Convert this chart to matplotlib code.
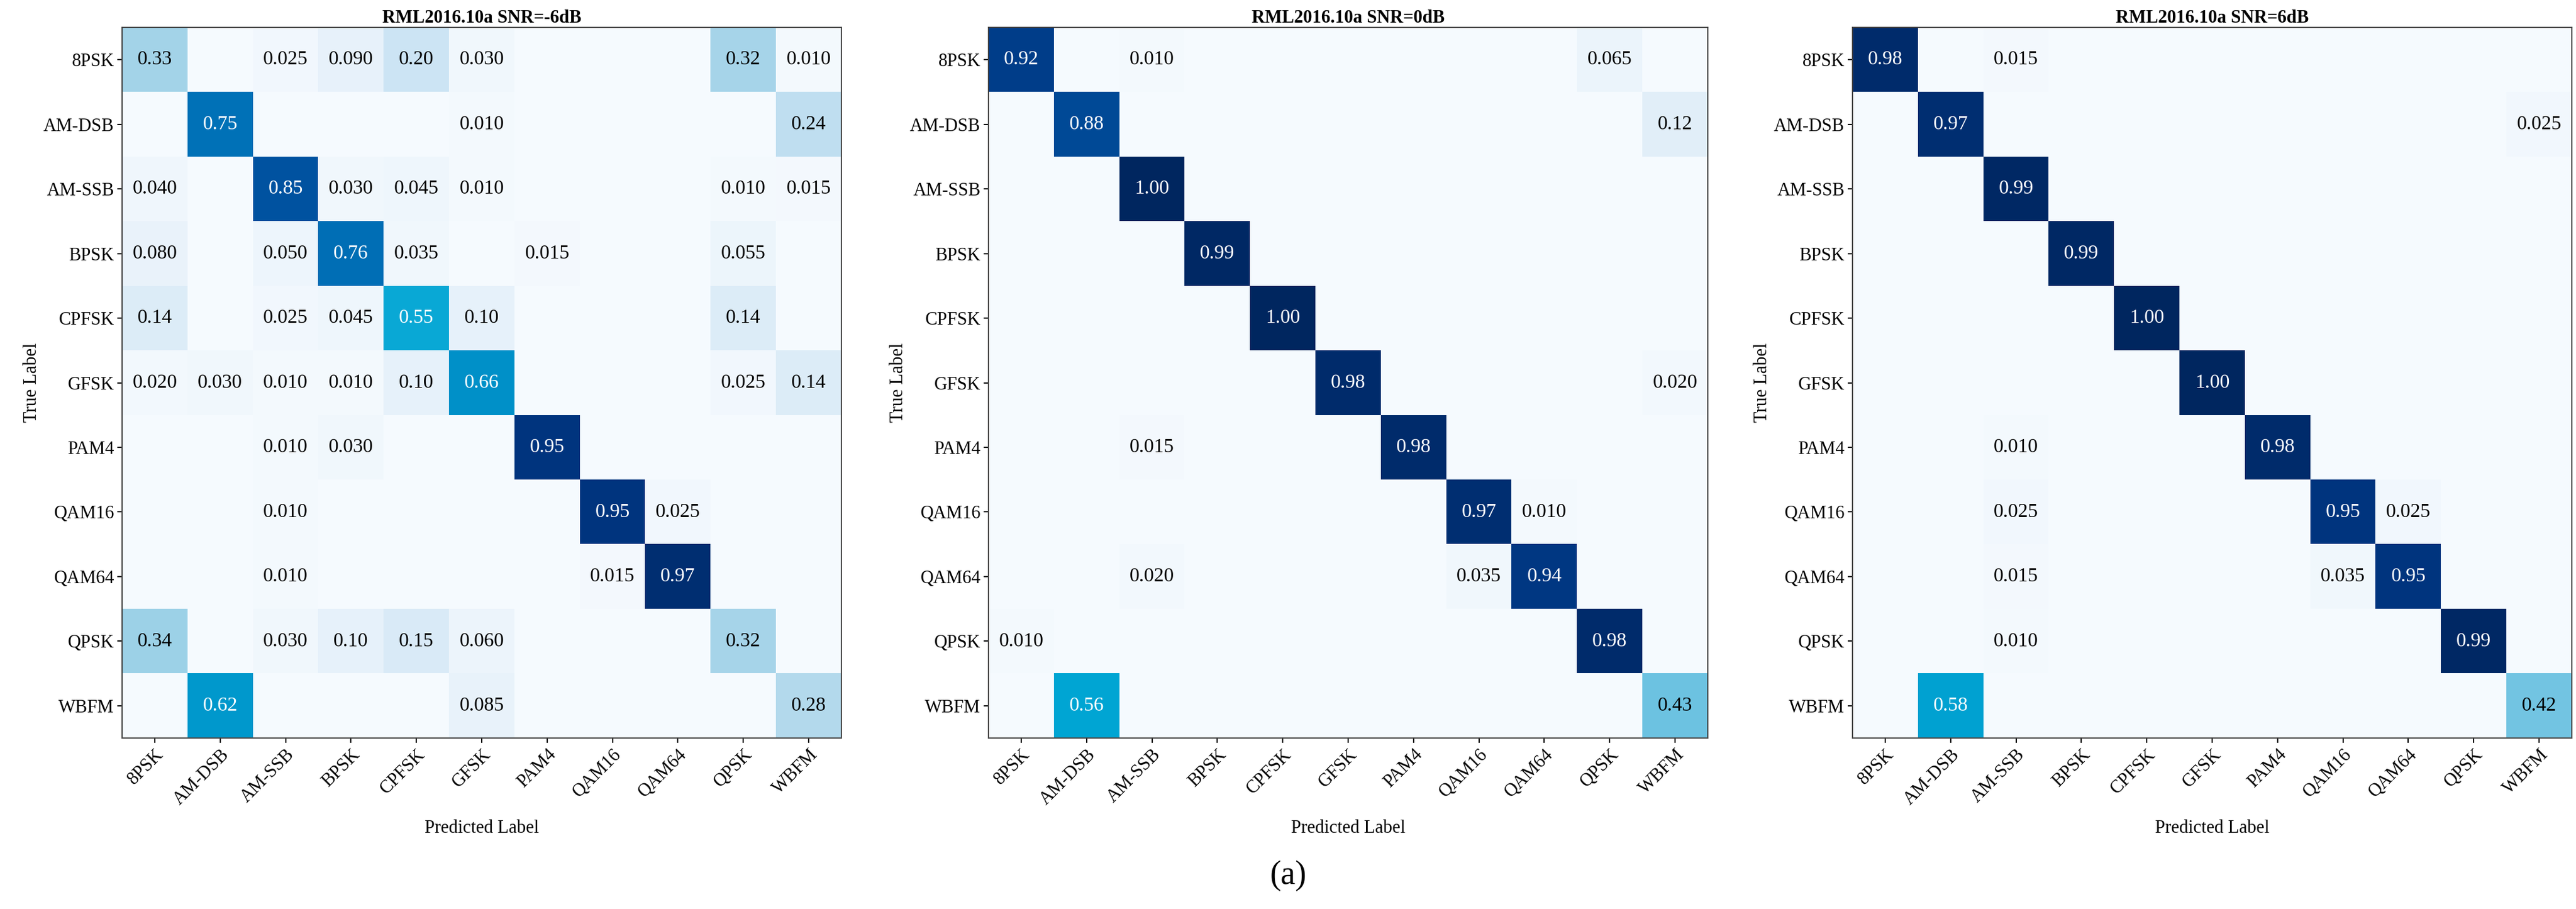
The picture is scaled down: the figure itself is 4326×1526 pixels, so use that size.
import numpy as np
import matplotlib
matplotlib.use("Agg")
import matplotlib.pyplot as plt
from matplotlib.colors import LinearSegmentedColormap

plt.rcParams['font.family'] = ['Liberation Serif', 'DejaVu Serif']

labels = ["8PSK", "AM-DSB", "AM-SSB", "BPSK", "CPFSK", "GFSK", "PAM4", "QAM16", "QAM64", "QPSK", "WBFM"]
titles = ["RML2016.10a SNR=-6dB", "RML2016.10a SNR=0dB", "RML2016.10a SNR=6dB"]

cm_m6 = [
    [0.33, 0, 0.025, 0.090, 0.20, 0.030, 0, 0, 0, 0.32, 0.010],
    [0, 0.75, 0, 0, 0, 0.010, 0, 0, 0, 0, 0.24],
    [0.040, 0, 0.85, 0.030, 0.045, 0.010, 0, 0, 0, 0.010, 0.015],
    [0.080, 0, 0.050, 0.76, 0.035, 0, 0.015, 0, 0, 0.055, 0],
    [0.14, 0, 0.025, 0.045, 0.55, 0.10, 0, 0, 0, 0.14, 0],
    [0.020, 0.030, 0.010, 0.010, 0.10, 0.66, 0, 0, 0, 0.025, 0.14],
    [0, 0, 0.010, 0.030, 0, 0, 0.95, 0, 0, 0, 0],
    [0, 0, 0.010, 0, 0, 0, 0, 0.95, 0.025, 0, 0],
    [0, 0, 0.010, 0, 0, 0, 0, 0.015, 0.97, 0, 0],
    [0.34, 0, 0.030, 0.095, 0.15, 0.060, 0, 0, 0, 0.32, 0],
    [0, 0.62, 0, 0, 0, 0.085, 0, 0, 0, 0, 0.28],
]
cm_0 = [
    [0.92, 0, 0.010, 0, 0, 0, 0, 0, 0, 0.065, 0],
    [0, 0.88, 0, 0, 0, 0, 0, 0, 0, 0, 0.12],
    [0, 0, 1.00, 0, 0, 0, 0, 0, 0, 0, 0],
    [0, 0, 0, 0.99, 0, 0, 0, 0, 0, 0, 0],
    [0, 0, 0, 0, 1.00, 0, 0, 0, 0, 0, 0],
    [0, 0, 0, 0, 0, 0.98, 0, 0, 0, 0, 0.020],
    [0, 0, 0.015, 0, 0, 0, 0.98, 0, 0, 0, 0],
    [0, 0, 0, 0, 0, 0, 0, 0.97, 0.010, 0, 0],
    [0, 0, 0.020, 0, 0, 0, 0, 0.035, 0.94, 0, 0],
    [0.010, 0, 0, 0, 0, 0, 0, 0, 0, 0.98, 0],
    [0, 0.56, 0, 0, 0, 0, 0, 0, 0, 0, 0.43],
]
cm_6 = [
    [0.98, 0, 0.015, 0, 0, 0, 0, 0, 0, 0, 0],
    [0, 0.97, 0, 0, 0, 0, 0, 0, 0, 0, 0.025],
    [0, 0, 0.99, 0, 0, 0, 0, 0, 0, 0, 0],
    [0, 0, 0, 0.99, 0, 0, 0, 0, 0, 0, 0],
    [0, 0, 0, 0, 1.00, 0, 0, 0, 0, 0, 0],
    [0, 0, 0, 0, 0, 1.00, 0, 0, 0, 0, 0],
    [0, 0, 0.010, 0, 0, 0, 0.98, 0, 0, 0, 0],
    [0, 0, 0.025, 0, 0, 0, 0, 0.95, 0.025, 0, 0],
    [0, 0, 0.015, 0, 0, 0, 0, 0.035, 0.95, 0, 0],
    [0, 0, 0.010, 0, 0, 0, 0, 0, 0, 0.99, 0],
    [0, 0.58, 0, 0, 0, 0, 0, 0, 0, 0, 0.42],
]
mats = [cm_m6, cm_0, cm_6]

cmap = LinearSegmentedColormap.from_list("cb", [
    (0.0, "#f5fafe"), (0.1, "#e6f1fa"), (0.2, "#cce4f4"), (0.33, "#a3d3e8"),
    (0.45, "#62bfe0"), (0.56, "#00a6d4"), (0.66, "#0090c8"), (0.76, "#006fb6"),
    (0.86, "#00509e"), (0.95, "#003580"), (1.0, "#00265f")])

fig = plt.figure(figsize=(43.26, 15.26), dpi=100)
lefts = [205, 1660, 3111]
W, H = 4326, 1526
for k in range(3):
    x0 = lefts[k]
    ax = fig.add_axes([x0 / W, 1 - 1239 / H, 1208 / W, (1239 - 46) / H])
    m = np.array(mats[k])
    ax.imshow(m, cmap=cmap, vmin=0, vmax=1, aspect='auto', interpolation='nearest')
    for i in range(11):
        for j in range(11):
            v = m[i, j]
            if v >= 0.01:
                s = f"{v:.2f}" if v >= 0.095 else f"{v:.3f}"
                ax.text(j, i, s, ha='center', va='center', fontsize=24,
                        color='white' if v > 0.5 else 'black')
    ax.set_xticks(range(11))
    ax.set_yticks(range(11))
    ax.set_xticklabels(labels, rotation=45, ha='right', rotation_mode='anchor', fontsize=22)
    ax.set_yticklabels(labels, fontsize=22)
    ax.tick_params(length=6, width=1.5)
    ax.set_xlabel("Predicted Label", fontsize=22, labelpad=14)
    ax.set_ylabel("True Label", fontsize=22)
    ax.set_title(titles[k], fontsize=22, fontweight='bold', pad=6)
    for sp in ax.spines.values():
        sp.set_linewidth(1.5)
        sp.set_color('#444444')

fig.text(0.5, 1 - 1470 / H, "(a)", ha='center', va='center', fontsize=40, family=['Liberation Serif'])
fig.savefig("out.png", dpi=100)
